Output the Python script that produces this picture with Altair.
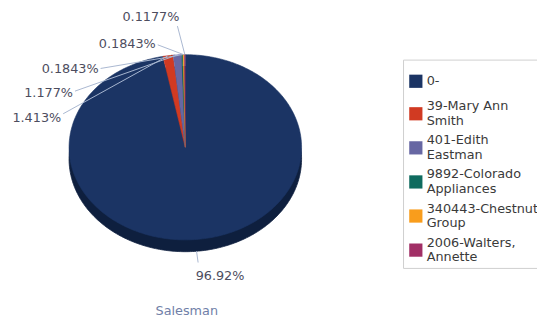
import altair as alt
import pandas as pd

# ---- data ----
names = ["0-", "39-Mary Ann Smith", "401-Edith Eastman",
         "9892-Colorado Appliances", "340443-Chestnut Group",
         "2006-Walters, Annette"]
shares = [96.92, 1.413, 1.177, 0.1843, 0.1843, 0.1177]
share_labels = ["96.92%", "1.413%", "1.177%", "0.1843%", "0.1843%", "0.1177%"]
colors = ["#1b3464", "#d13a22", "#6767a3", "#0f6b5f", "#f99d1c", "#a12f66"]

# ---- layout (page pixels) ----
CX, CY, RX, RY, DEPTH = 188, 147, 118, 94, 12
label_x = [248, 62, 74, 100, 158, 182]
label_y = [278, 117, 92, 68, 42, 15]
line_x = [201, 64, 76, 102, 160, 180]
line_y = [264, 113, 90, 67, 43, 24]
# legend layout
LEG_SW_X, LEG_TXT_X = 422, 433
LEG_Y0, LEG_Y1, LEG_STEP, LEG_LH = 80, 113, 34.6, 15
BOX_X1, BOX_X2, BOX_Y1, BOX_Y2 = 409.5, 600, 58.5, 270

FONT = "DejaVu Sans"

df = pd.DataFrame({
    "name": names, "share": shares, "label": share_labels,
    "order": list(range(len(names))),
    "tx": label_x, "ty": label_y, "lx": line_x, "ly": line_y,
})

xs = alt.Scale(domain=[8, 545], nice=False, zero=False)
ys = alt.Scale(domain=[8, 298], range=[0, 290], nice=False, zero=False)
cs = alt.Scale(domain=names, range=colors)

base = alt.Chart(df).transform_joinaggregate(
    total="sum(share)"
).transform_window(
    cum="sum(share)", sort=[alt.SortField("order")]
).transform_calculate(
    a0="2*PI*(datum.cum-datum.share)/datum.total",
    a1="2*PI*datum.cum/datum.total",
)

poly = base.transform_calculate(
    k="sequence(-1, 361)"
).transform_flatten(["k"]).transform_calculate(
    ang="datum.a0 + (datum.a1-datum.a0)*max(datum.k,0)/360",
    px=f"datum.k<0 ? {CX} : {CX}+{RX}*sin(datum.ang)",
    py=f"datum.k<0 ? {CY} : {CY}-{RY}*cos(datum.ang)",
    pyd=f"(datum.k<0 ? {CY} : {CY}-{RY}*cos(datum.ang)) + {DEPTH}",
)

depth = poly.mark_line(strokeWidth=0.8).encode(
    x=alt.X("px:Q", scale=xs, axis=None),
    y=alt.Y("pyd:Q", scale=ys, axis=None),
    order="k:Q",
    detail="name:N",
    fill=alt.value("#0e1f3e"),
    stroke=alt.value("#0e1f3e"),
)

slices = poly.mark_line(strokeWidth=0.6).encode(
    x=alt.X("px:Q", scale=xs, axis=None),
    y=alt.Y("py:Q", scale=ys, axis=None),
    order="k:Q",
    fill=alt.Fill("name:N", scale=cs, legend=None),
    stroke=alt.Stroke("name:N", scale=cs, legend=None),
)

leaders = base.transform_calculate(
    sx=f"{CX}+{RX}*sin((datum.a0+datum.a1)/2)",
    sy=f"{CY}-{RY}*cos((datum.a0+datum.a1)/2) + (cos((datum.a0+datum.a1)/2) < 0 ? {DEPTH} : 0)",
).mark_rule(color="#a9b7d0", strokeWidth=1).encode(
    x=alt.X("sx:Q", scale=xs, axis=None),
    y=alt.Y("sy:Q", scale=ys, axis=None),
    x2="lx:Q",
    y2="ly:Q",
)

texts = alt.Chart(df).mark_text(
    align="right", baseline="middle", font=FONT, fontSize=13, color="#4d4d5e"
).encode(
    x=alt.X("tx:Q", scale=xs, axis=None),
    y=alt.Y("ty:Q", scale=ys, axis=None),
    text="label:N",
)

# ---- legend (built from the same names / colours) ----
box = alt.Chart(df).transform_filter("datum.order == 0").transform_calculate(
    bx1=f"{BOX_X1}", bx2=f"{BOX_X2}", by1=f"{BOX_Y1}", by2=f"{BOX_Y2}",
).mark_rect(fill="white", stroke="#cfcfcf", strokeWidth=1).encode(
    x=alt.X("bx1:Q", scale=xs, axis=None),
    x2="bx2:Q",
    y=alt.Y("by1:Q", scale=ys, axis=None),
    y2="by2:Q",
)

leg = alt.Chart(df).transform_calculate(
    cy=f"datum.order == 0 ? {LEG_Y0} : {LEG_Y1} + (datum.order - 1) * {LEG_STEP}",
    sp="lastindexof(datum.name, ' ')",
).transform_calculate(
    line1="datum.sp < 0 ? datum.name : substring(datum.name, 0, datum.sp)",
    line2="datum.sp < 0 ? '' : substring(datum.name, datum.sp + 1)",
    y1=f"datum.sp < 0 ? datum.cy : datum.cy - {LEG_LH / 2}",
    y2=f"datum.cy + {LEG_LH / 2}",
    sx=f"{LEG_SW_X}",
    txx=f"{LEG_TXT_X}",
)

swatches = leg.mark_square(size=180, opacity=1).encode(
    x=alt.X("sx:Q", scale=xs, axis=None),
    y=alt.Y("cy:Q", scale=ys, axis=None),
    color=alt.Color("name:N", scale=cs, legend=None),
)

leg_line1 = leg.mark_text(
    align="left", baseline="middle", font=FONT, fontSize=13, color="#3a3a3a"
).encode(
    x=alt.X("txx:Q", scale=xs, axis=None),
    y=alt.Y("y1:Q", scale=ys, axis=None),
    text="line1:N",
)
leg_line2 = leg.transform_filter("datum.sp >= 0").mark_text(
    align="left", baseline="middle", font=FONT, fontSize=13, color="#3a3a3a"
).encode(
    x=alt.X("txx:Q", scale=xs, axis=None),
    y=alt.Y("y2:Q", scale=ys, axis=None),
    text="line2:N",
)

chart = alt.layer(
    depth, slices, leaders, texts, box, swatches, leg_line1, leg_line2
).properties(
    width=537, height=290,
    autosize=alt.AutoSizeParams(type="none"),
    padding={"left": 0, "top": 0, "right": 0, "bottom": 24},
    title=alt.TitleParams(
        "Salesman", orient="bottom", anchor="middle", dx=-87, offset=9,
        font=FONT, fontSize=13, fontWeight="normal", color="#7080a8",
    ),
).configure_view(stroke=None)

chart.save("out.html", embed_options={"renderer": "svg", "actions": False})
